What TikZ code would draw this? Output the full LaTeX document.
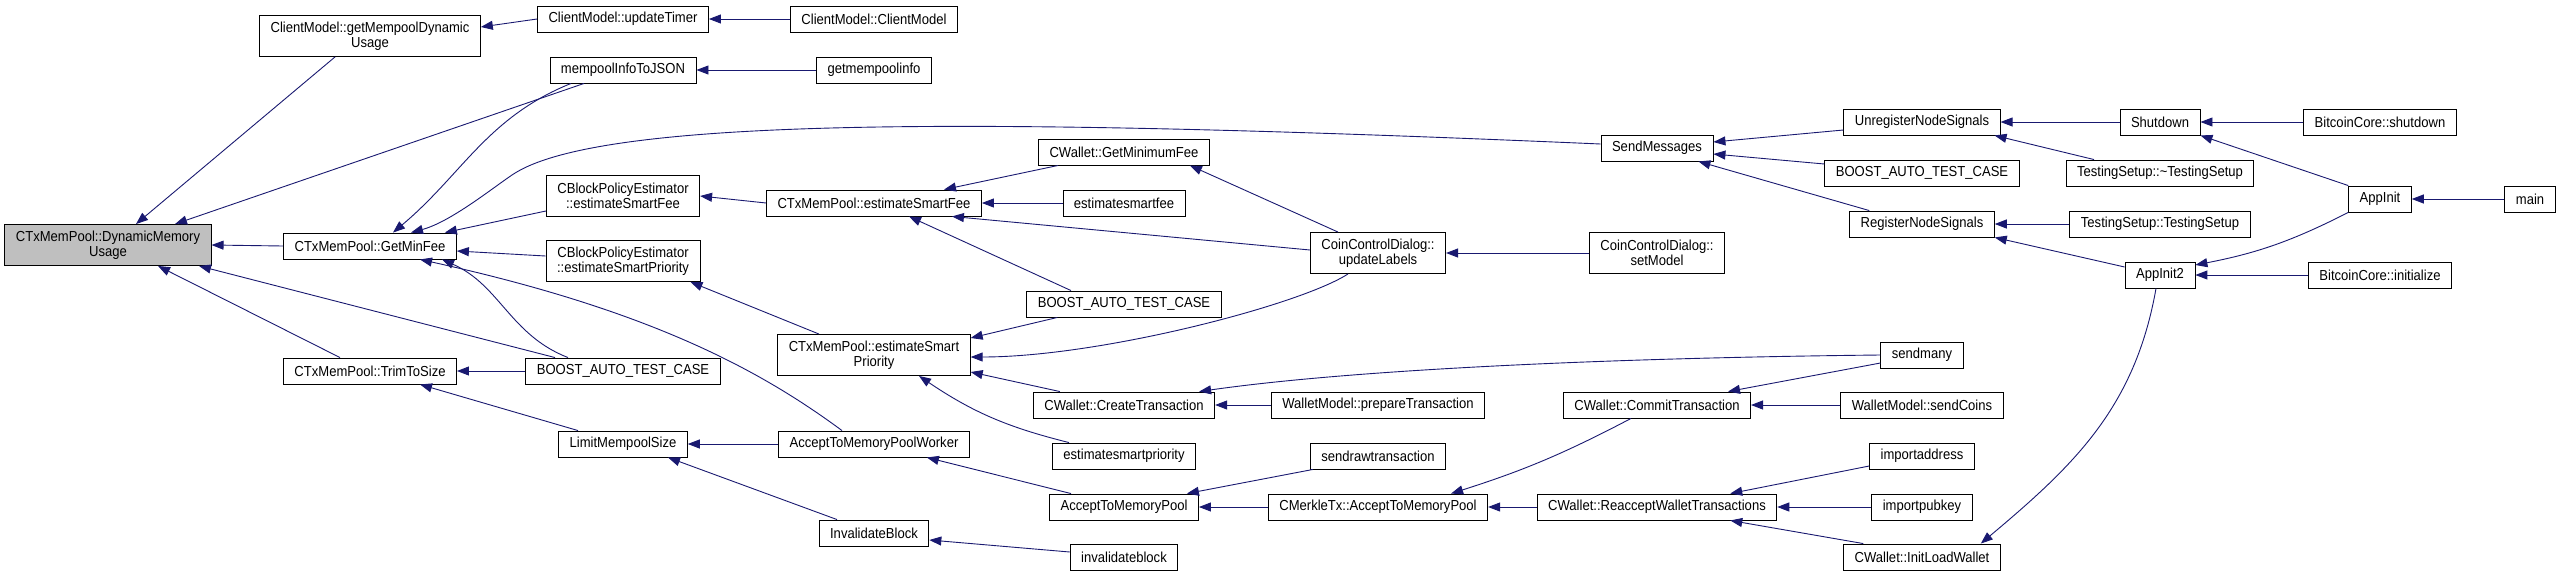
\documentclass[tikz,border=0pt]{standalone}
\usepackage{fontspec}
\newfontfamily\dxfont[FakeStretch=0.9]{Liberation Sans}
\usetikzlibrary{arrows.meta}
\definecolor{edgeblue}{HTML}{191970}
\definecolor{rootgray}{HTML}{BFBFBF}

\begin{document}
\begin{tikzpicture}[x=1pt, y=1pt,
  fn/.style={draw=black, line width=0.9pt, fill=white, inner xsep=11pt, inner ysep=2pt,
    minimum height=26pt, align=center, font=\dxfont\fontsize{14.5}{15}\selectfont},
  twoline/.style={fn, minimum height=41pt},
  call/.style={draw=edgeblue, line width=0.9pt, -{Triangle[length=12pt, width=9pt]}}]

\useasboundingbox (0,0) rectangle (2560,-576);

% Root
\node[twoline, fill=rootgray] (dmu) at (108,-245) {CTxMemPool::DynamicMemory\\Usage};

% Column 1
\node[twoline] (gmdu) at (370,-36) {ClientModel::getMempoolDynamic\\Usage};
\node[fn] (gmf) at (370,-246) {CTxMemPool::GetMinFee};
\node[fn] (tts) at (370,-371) {CTxMemPool::TrimToSize};

% Column 2
\node[fn] (upt) at (623,-19) {ClientModel::updateTimer};
\node[fn] (mij) at (623,-70) {mempoolInfoToJSON};
\node[twoline] (bsf) at (623,-196) {CBlockPolicyEstimator\\::estimateSmartFee};
\node[twoline] (bsp) at (623,-261) {CBlockPolicyEstimator\\::estimateSmartPriority};
\node[fn] (btc1) at (623,-371) {BOOST\_AUTO\_TEST\_CASE};
\node[fn] (lms) at (623,-444) {LimitMempoolSize};

% Column 3
\node[fn] (cmc) at (874,-19) {ClientModel::ClientModel};
\node[fn] (gmi) at (874,-70) {getmempoolinfo};
\node[fn] (esf) at (874,-203) {CTxMemPool::estimateSmartFee};
\node[twoline] (esp) at (874,-355) {CTxMemPool::estimateSmart\\Priority};
\node[fn] (atw) at (874,-444) {AcceptToMemoryPoolWorker};
\node[fn] (ivb) at (874,-533) {InvalidateBlock};

% Column 4
\node[fn] (gmnf) at (1124,-152) {CWallet::GetMinimumFee};
\node[fn] (esfr) at (1124,-203) {estimatesmartfee};
\node[fn] (btc2) at (1124,-304) {BOOST\_AUTO\_TEST\_CASE};
\node[fn] (ctx) at (1124,-405) {CWallet::CreateTransaction};
\node[fn] (espr) at (1124,-456) {estimatesmartpriority};
\node[fn] (atm) at (1124,-507) {AcceptToMemoryPool};
\node[fn] (ivbr) at (1124,-557) {invalidateblock};

% Column 5
\node[twoline] (upl) at (1378,-253) {CoinControlDialog::\\updateLabels};
\node[fn] (ptx) at (1378,-405) {WalletModel::prepareTransaction};
\node[fn] (srt) at (1378,-456) {sendrawtransaction};
\node[fn] (mtx) at (1378,-507) {CMerkleTx::AcceptToMemoryPool};

% Column 6
\node[fn] (snd) at (1657,-148) {SendMessages};
\node[twoline] (stm) at (1657,-253) {CoinControlDialog::\\setModel};
\node[fn] (cmt) at (1657,-405) {CWallet::CommitTransaction};
\node[fn] (rwt) at (1657,-507) {CWallet::ReacceptWalletTransactions};

% Column 7
\node[fn] (uns) at (1922,-122) {UnregisterNodeSignals};
\node[fn] (btc3) at (1922,-173) {BOOST\_AUTO\_TEST\_CASE};
\node[fn] (rns) at (1922,-224) {RegisterNodeSignals};
\node[fn] (smy) at (1922,-355) {sendmany};
\node[fn] (scn) at (1922,-405) {WalletModel::sendCoins};
\node[fn] (iad) at (1922,-456) {importaddress};
\node[fn] (ipk) at (1922,-507) {importpubkey};
\node[fn] (ilw) at (1922,-557) {CWallet::InitLoadWallet};

% Columns 8 to 10
\node[fn] (sht) at (2160,-122) {Shutdown};
\node[fn] (dts) at (2160,-173) {TestingSetup::\textasciitilde TestingSetup};
\node[fn] (tst) at (2160,-224) {TestingSetup::TestingSetup};
\node[fn] (ai2) at (2160,-275) {AppInit2};
\node[fn] (bcs) at (2380,-122) {BitcoinCore::shutdown};
\node[fn] (ai) at (2380,-199) {AppInit};
\node[fn] (bci) at (2380,-275) {BitcoinCore::initialize};
\node[fn] (mn) at (2530,-199) {main};

% Calls into the root
\draw[call] ([xshift=-35]gmdu.south) -- ([xshift=28]dmu.north);
\draw[call] ([xshift=-39]mij.south) -- ([xshift=67]dmu.north);
\draw[call] (gmf.west) -- (dmu.east);
\draw[call] ([xshift=-68]btc1.north) -- ([xshift=91]dmu.south);
\draw[call] ([xshift=-30]tts.north) -- ([xshift=50]dmu.south);

% Client model and JSON
\draw[call] (upt.west) -- ([yshift=9]gmdu.east);
\draw[call] (cmc) -- (upt);
\draw[call] (gmi) -- (mij);

% Calls into GetMinFee
\draw[call] ([xshift=-52]mij.south) to[out=202,in=40] ([xshift=23]gmf.north);
\draw[call] ([yshift=4]snd.west) .. controls (1000,-118) and (600,-115) .. (512,-175)
  .. controls (490,-190) and (450,-222) .. ([xshift=41]gmf.north);
\draw[call] ([yshift=-15]bsf.west) -- ([xshift=-12]gmf.north east);
\draw[call] ([yshift=5]bsp.west) -- ([yshift=-5]gmf.east);
\draw[call] ([xshift=-55]btc1.north) .. controls (510,-335) and (500,-285) .. ([xshift=72]gmf.south);
\draw[call] ([xshift=-32]atw.north) .. controls (760,-370) and (650,-310) .. ([xshift=50]gmf.south);

% TrimToSize and its callers
\draw[call] (btc1) -- (tts);
\draw[call] ([xshift=-45]lms.north) -- ([xshift=50]tts.south);
\draw[call] (atw) -- (lms);
\draw[call] ([xshift=-37]ivb.north) -- ([xshift=45]lms.south);
\draw[call] ([yshift=5]ivbr.west) -- ([yshift=-7]ivb.east);
\draw[call] ([xshift=-53]atm.north) -- ([xshift=-43]atw.south east);
\draw[call] ([xshift=3]srt.south west) -- ([xshift=-12]atm.north east);
\draw[call] (mtx) -- (atm);

% Fee estimates
\draw[call] (esf.west) -- (bsf.east);
\draw[call] ([xshift=-55]esp.north) -- ([xshift=-10]bsp.south east);
\draw[call] ([xshift=20]gmnf.south west) -- ([xshift=70]esf.north);
\draw[call] (esfr) -- (esf);
\draw[call] ([yshift=3]upl.west) -- ([xshift=-30]esf.south east);
\draw[call] ([xshift=-53]btc2.north) -- ([xshift=35]esf.south);
\draw[call] ([xshift=-40]upl.north) -- ([xshift=-20]gmnf.south east);
\draw[call] ([xshift=31]btc2.south west) -- ([yshift=17]esp.east);
\draw[call] ([xshift=-30]upl.south) .. controls (1300,-305) and (1100,-357) .. ([yshift=-2]esp.east);
\draw[call] ([xshift=27]ctx.north west) -- ([yshift=-17]esp.east);
\draw[call] ([xshift=-55]espr.north) to[bend left=10] ([xshift=45]esp.south);
\draw[call] (stm) -- (upl);

% Wallet
\draw[call] (smy.west) .. controls (1600,-358) and (1350,-370) .. ([xshift=-16]ctx.north east);
\draw[call] ([yshift=-8]smy.west) -- ([xshift=-23]cmt.north east);
\draw[call] (ptx) -- (ctx);
\draw[call] (scn) -- (cmt);
\draw[call] ([xshift=-26]cmt.south) to[bend left=5] ([xshift=-37]mtx.north east);
\draw[call] (rwt) -- (mtx);
\draw[call] ([yshift=-10]iad.west) -- ([xshift=-47]rwt.north east);
\draw[call] (ipk) -- (rwt);
\draw[call] ([xshift=20]ilw.north west) -- ([xshift=-47]rwt.south east);
\draw[call] ([xshift=-4]ai2.south) to[out=-100,in=40] ([xshift=-20]ilw.north east);

% Node signals and startup
\draw[call] ([yshift=-8]uns.west) -- ([yshift=6]snd.east);
\draw[call] ([yshift=9]btc3.west) -- ([yshift=-6]snd.east);
\draw[call] ([xshift=20]rns.north west) -- ([xshift=-15]snd.south east);
\draw[call] (sht) -- (uns);
\draw[call] ([xshift=-66]dts.north) -- ([xshift=-6]uns.south east);
\draw[call] (tst) -- (rns);
\draw[call] ([yshift=8]ai2.west) -- (rns.south east);
\draw[call] (bcs) -- (sht);
\draw[call] (ai.north west) -- (sht.south east);
\draw[call] (ai.south west) to[bend left=8] ([yshift=10]ai2.east);
\draw[call] (mn) -- (ai);
\draw[call] (bci) -- (ai2);

\end{tikzpicture}
\end{document}
